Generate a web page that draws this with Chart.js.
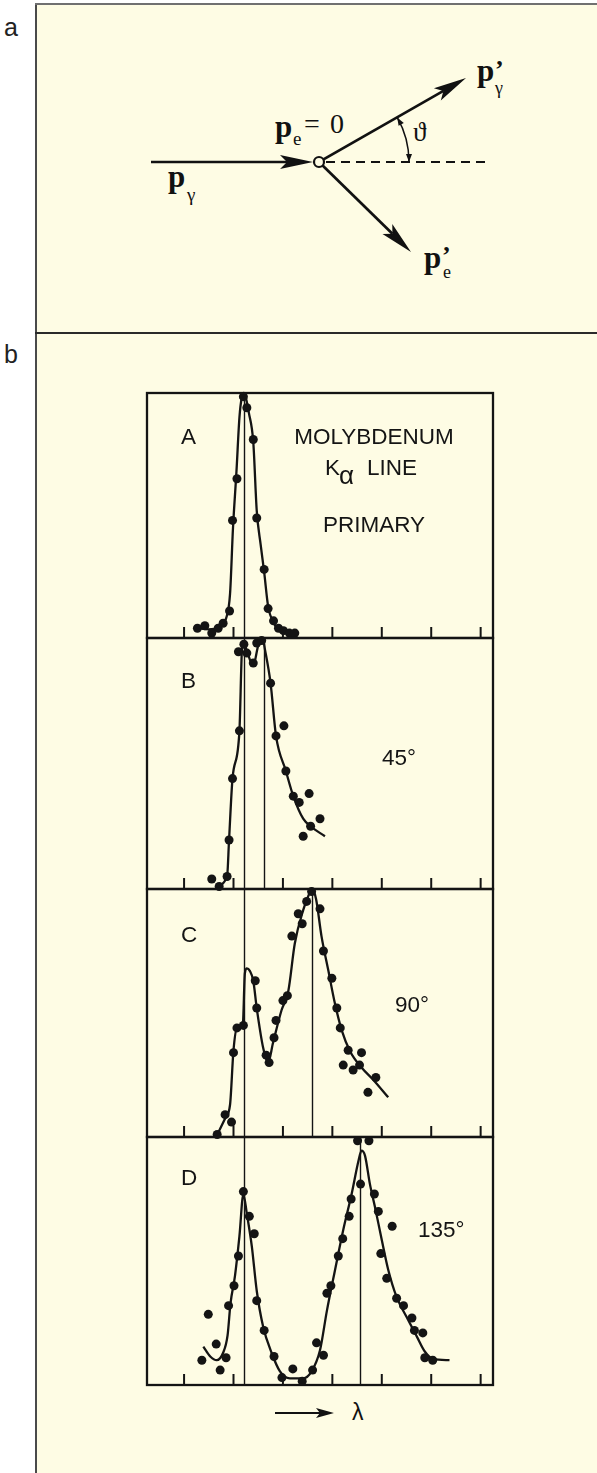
<!DOCTYPE html>
<html><head><meta charset="utf-8">
<title>Compton scattering</title>
<script src="https://cdn.jsdelivr.net/npm/chart.js@4.4.1/dist/chart.umd.min.js"></script>
<style>
html,body{margin:0;padding:0;background:#fff}
body{width:597px;height:1473px;position:relative;overflow:hidden}
#cream{position:absolute;left:36px;top:3px;width:561px;height:1470px;background:#fefce4}
#lineLeft{position:absolute;left:35px;top:3px;width:2px;height:1470px;background:#4a4a4a}
#lineTop{position:absolute;left:35px;top:3px;width:562px;height:2px;background:#707070}
#lineMid{position:absolute;left:35px;top:332px;width:562px;height:2px;background:#2a2a2a}
svg{position:absolute;left:0;top:0}
canvas{position:absolute}
</style></head><body>
<div id="cream"></div><div id="lineLeft"></div><div id="lineTop"></div><div id="lineMid"></div>
<svg id="diag" width="597" height="1473" xmlns="http://www.w3.org/2000/svg">
  <g font-family="'Liberation Sans',Arial,sans-serif" font-size="25" fill="#222">
    <text x="4" y="36">a</text>
    <text x="4" y="363">b</text>
  </g>
  <g id="arrows"></g>
  <line x1="326" y1="162" x2="490" y2="162" stroke="#111" stroke-width="2.2" stroke-dasharray="9,6"/>
  <circle cx="319" cy="162" r="5" fill="#fefce4" stroke="#111" stroke-width="2.2"/>
  <path d="M 397.2 117.4 A 90 90 0 0 1 409 162" fill="none" stroke="#111" stroke-width="1.5"/>
  <g font-family="'Liberation Serif','Times New Roman','DejaVu Serif',serif" fill="#111">
    <text x="168" y="187" font-size="31" font-weight="bold">p</text>
    <text x="187" y="201" font-size="19">γ</text>
    <text x="275" y="137" font-size="31" font-weight="bold">p</text>
    <text x="293" y="145" font-size="19">e</text>
    <text x="304" y="133" font-size="28">=</text>
    <text x="330" y="133" font-size="28">0</text>
    <text x="477" y="81" font-size="31" font-weight="bold">p</text>
    <text x="495" y="78" font-size="26" font-weight="bold">’</text>
    <text x="495" y="94" font-size="18">γ</text>
    <text x="424" y="268" font-size="31" font-weight="bold">p</text>
    <text x="442" y="264" font-size="26" font-weight="bold">’</text>
    <text x="443" y="278" font-size="18">e</text>
    <text x="413" y="141" font-size="27">ϑ</text>
  </g>
  <line x1="275" y1="1413" x2="322" y2="1413" stroke="#111" stroke-width="2"/>
  <polygon points="334,1413 316,1408 320,1413 316,1418" fill="#111"/>
  <text x="352" y="1420" font-family="'Liberation Sans',Arial,sans-serif" font-size="23" fill="#111">λ</text>
</svg>
<script>
// ---------------- data ----------------
const xTicks = [0, 1, 2, 3, 4, 5, 6];
const primaryLine = 1.21;
const shiftedLines = [null, 1.62, 2.59, 3.56];
const panelNames = ['A', 'B', 'C', 'D'];
const angleLabels = ['', '45°', '90°', '135°'];
const titleLines = ['MOLYBDENUM', 'K', 'α', 'LINE', 'PRIMARY'];

const aDotX = [0.27,0.42,0.56,0.69,0.79,0.92,0.98,1.07,1.20,1.27,1.40,1.47,1.62,1.70,1.81,1.91,2.01,2.13,2.24];
const aDotY = [0.04,0.05,0.02,0.04,0.06,0.11,0.48,0.65,0.985,0.94,0.81,0.49,0.28,0.12,0.07,0.04,0.03,0.02,0.02];
const aCurveX = [0.27,0.5,0.7,0.85,0.93,0.99,1.06,1.12,1.17,1.21,1.25,1.31,1.40,1.47,1.55,1.62,1.70,1.80,1.92,2.05,2.25];
const aCurveY = [0.04,0.035,0.045,0.08,0.18,0.45,0.68,0.9,0.985,1.0,0.98,0.92,0.80,0.52,0.38,0.27,0.13,0.065,0.035,0.025,0.02];

const bDotX = [0.56,0.71,0.87,0.91,0.98,1.12,1.10,1.21,1.27,1.40,1.47,1.57,1.75,1.86,2.02,2.06,2.21,2.33,2.53,2.41,2.56,2.75];
const bDotY = [0.04,0.01,0.05,0.195,0.44,0.63,0.945,0.975,0.94,0.90,0.98,0.99,0.82,0.61,0.65,0.47,0.37,0.345,0.38,0.21,0.25,0.28];
const bCurveX = [0.63,0.87,0.91,0.98,1.12,1.17,1.20,1.25,1.40,1.50,1.59,1.64,1.75,1.86,2.06,2.21,2.41,2.56,2.85];
const bCurveY = [0.01,0.05,0.195,0.44,0.63,0.95,0.98,0.96,0.89,0.97,0.995,0.95,0.82,0.61,0.47,0.37,0.28,0.25,0.21];

const cDotX = [0.67,0.83,0.96,1.00,1.07,1.20,1.44,1.47,1.66,1.72,1.82,1.86,2.00,2.09,2.18,2.31,2.39,2.48,2.58,2.75,2.82,2.99,3.09,3.16,3.32,3.59,3.22,3.42,3.55,3.88,3.72];
const cDotY = [0.01,0.09,0.06,0.34,0.44,0.45,0.63,0.52,0.33,0.30,0.40,0.47,0.55,0.57,0.81,0.90,0.86,0.95,0.99,0.92,0.75,0.64,0.52,0.44,0.35,0.34,0.29,0.27,0.29,0.24,0.18];
const cCurveX = [0.65,0.83,0.93,1.00,1.07,1.19,1.23,1.27,1.33,1.40,1.47,1.60,1.70,1.80,1.97,2.11,2.24,2.41,2.51,2.59,2.67,2.78,2.92,3.05,3.19,3.36,3.59,3.83,4.13];
const cCurveY = [0.0,0.075,0.13,0.35,0.44,0.46,0.66,0.68,0.67,0.63,0.52,0.36,0.30,0.38,0.51,0.59,0.78,0.915,0.97,1.0,0.96,0.81,0.67,0.54,0.43,0.345,0.28,0.23,0.16];

const dDotX = [0.36,0.49,0.65,0.73,0.85,0.90,1.01,1.10,1.20,1.32,1.42,1.47,1.62,1.82,1.98,2.20,2.39,2.60,2.68,2.82,2.89,2.97,3.12,3.21,3.34,3.38,3.51,3.74,3.57,3.85,3.93,4.21,3.98,4.10,4.30,4.44,4.61,4.66,4.83,4.87,5.03];
const dDotY = [0.10,0.285,0.165,0.06,0.11,0.32,0.40,0.52,0.78,0.68,0.61,0.34,0.22,0.115,0.03,0.065,0.015,0.06,0.17,0.12,0.37,0.40,0.52,0.59,0.68,0.75,0.985,0.985,0.81,0.77,0.70,0.64,0.53,0.43,0.35,0.32,0.27,0.22,0.21,0.11,0.10];
const dCurveX = [0.39,0.53,0.66,0.79,0.88,0.94,1.03,1.12,1.20,1.27,1.37,1.47,1.60,1.77,1.94,2.14,2.41,2.58,2.75,2.89,3.05,3.22,3.39,3.53,3.59,3.66,3.76,3.86,4.00,4.13,4.30,4.50,4.71,4.87,5.04,5.37];
const dCurveY = [0.155,0.115,0.10,0.13,0.20,0.33,0.44,0.60,0.77,0.69,0.56,0.38,0.235,0.13,0.055,0.027,0.027,0.055,0.14,0.30,0.46,0.625,0.77,0.905,0.945,0.925,0.81,0.72,0.585,0.465,0.355,0.275,0.195,0.135,0.105,0.10];

// ---------------- diagram arrows (panel a) ----------------
(function(){
  const g = document.getElementById('arrows');
  const NS = 'http://www.w3.org/2000/svg';
  function arrow(x1,y1,x2,y2,L,W,N,lw){
    const dx=x2-x1, dy=y2-y1, len=Math.hypot(dx,dy), ux=dx/len, uy=dy/len, nx=-uy, ny=ux;
    const ln=document.createElementNS(NS,'line');
    ln.setAttribute('x1',x1);ln.setAttribute('y1',y1);
    ln.setAttribute('x2',x2-ux*(L-N));ln.setAttribute('y2',y2-uy*(L-N));
    ln.setAttribute('stroke','#111');ln.setAttribute('stroke-width',lw);
    g.appendChild(ln);
    const bx=x2-ux*L, by=y2-uy*L, mx=x2-ux*(L-N), my=y2-uy*(L-N);
    const pg=document.createElementNS(NS,'polygon');
    pg.setAttribute('points',[x2,y2,bx+nx*W,by+ny*W,mx,my,bx-nx*W,by-ny*W].map(v=>v.toFixed(1)).join(' '));
    pg.setAttribute('fill','#111');
    g.appendChild(pg);
  }
  arrow(151,162,313,162,33,7,7,2.7);
  arrow(323.5,159.4,466,78,33,7,7,2.7);
  arrow(322.6,165.5,411,252,33,7,7,2.7);
  function head(x,y,ux,uy,L,W){
    const nx=-uy, ny=ux;
    const pg=document.createElementNS(NS,'polygon');
    pg.setAttribute('points',[x,y,x-ux*L+nx*W,y-uy*L+ny*W,x-ux*L-nx*W,y-uy*L-ny*W].map(v=>v.toFixed(1)).join(' '));
    pg.setAttribute('fill','#111');
    g.appendChild(pg);
  }
  head(397.2,117.4,-0.496,-0.868,8,3);
  head(409,162,0,1,8,3);
})();

// ---------------- charts (panel b) ----------------
const ink = '#141414';
const PAD = 14;
const plotLeft = 147, plotRight = 493;
const panelTops = [393, 638, 889, 1137];
const panelBottoms = [638, 889, 1137, 1385];
const dots = [[aDotX,aDotY],[bDotX,bDotY],[cDotX,cDotY],[dDotX,dDotY]];
const curves = [[aCurveX,aCurveY],[bCurveX,bCurveY],[cCurveX,cCurveY],[dCurveX,dCurveY]];
const toXY = (xs, ys) => xs.map((x, i) => ({x, y: ys[i]}));
const letterBase = [51, 50, 53, 48];
const anglePos = [null, [235,127], [248,123], [271,100]];
const FONT = '"Liberation Sans", Arial, sans-serif';

function makePlugin(i){
  return {
    id: 'frame' + i,
    beforeDatasetsDraw(chart){
      const {ctx, chartArea: a, scales: {x}} = chart;
      ctx.save();
      ctx.strokeStyle = ink;
      ctx.lineWidth = 1.4;
      [primaryLine, shiftedLines[i]].forEach(v => {
        if (v == null) return;
        const px = Math.round(x.getPixelForValue(v)) + 0.5;
        ctx.beginPath(); ctx.moveTo(px, a.top); ctx.lineTo(px, a.bottom); ctx.stroke();
      });
      ctx.lineWidth = 2;
      xTicks.forEach(t => {
        const px = x.getPixelForValue(t);
        ctx.beginPath(); ctx.moveTo(px, a.bottom); ctx.lineTo(px, a.bottom - 11); ctx.stroke();
      });
      ctx.lineWidth = 2.3;
      ctx.strokeRect(a.left, a.top, a.right - a.left, a.bottom - a.top);
      ctx.fillStyle = ink;
      ctx.textBaseline = 'alphabetic';
      ctx.font = '22.5px ' + FONT;
      ctx.textAlign = 'left';
      ctx.fillText(panelNames[i], a.left + 34, a.top + letterBase[i]);
      if (anglePos[i]) ctx.fillText(angleLabels[i], a.left + anglePos[i][0], a.top + anglePos[i][1]);
      if (i === 0) {
        ctx.textAlign = 'center';
        ctx.fillText(titleLines[0], a.left + 227, a.top + 51);
        ctx.fillText(titleLines[4], a.left + 227, a.top + 139);
        ctx.textAlign = 'left';
        ctx.fillText(titleLines[1], a.left + 178, a.top + 82);
        ctx.fillText(titleLines[3], a.left + 220, a.top + 82);
        ctx.font = '26px ' + FONT;
        ctx.fillText(titleLines[2], a.left + 192, a.top + 91);
      }
      ctx.restore();
    }
  };
}

for (let i = 0; i < 4; i++) {
  const cv = document.createElement('canvas');
  const w = plotRight - plotLeft + 2 * PAD;
  const h = panelBottoms[i] - panelTops[i] + 2 * PAD;
  cv.width = w; cv.height = h;
  cv.style.width = w + 'px'; cv.style.height = h + 'px';
  cv.style.left = (plotLeft - PAD) + 'px';
  cv.style.top = (panelTops[i] - PAD) + 'px';
  document.body.appendChild(cv);
  new Chart(cv, {
    type: 'scatter',
    data: {datasets: [
      {data: toXY(dots[i][0], dots[i][1]), showLine: false, pointRadius: 4.5, pointBackgroundColor: ink, pointBorderWidth: 0, clip: false},
      {data: toXY(curves[i][0], curves[i][1]), showLine: true, pointRadius: 0, borderColor: ink, borderWidth: 2.3, cubicInterpolationMode: 'monotone', fill: false, clip: false}
    ]},
    options: {
      responsive: false, animation: false, devicePixelRatio: 1, events: [],
      layout: {padding: PAD},
      plugins: {legend: {display: false}, tooltip: {enabled: false}},
      scales: {
        x: {type: 'linear', min: -0.75, max: 6.25, display: false},
        y: {type: 'linear', min: 0, max: 1, display: false}
      }
    },
    plugins: [makePlugin(i)]
  });
}
</script>
</body></html>
